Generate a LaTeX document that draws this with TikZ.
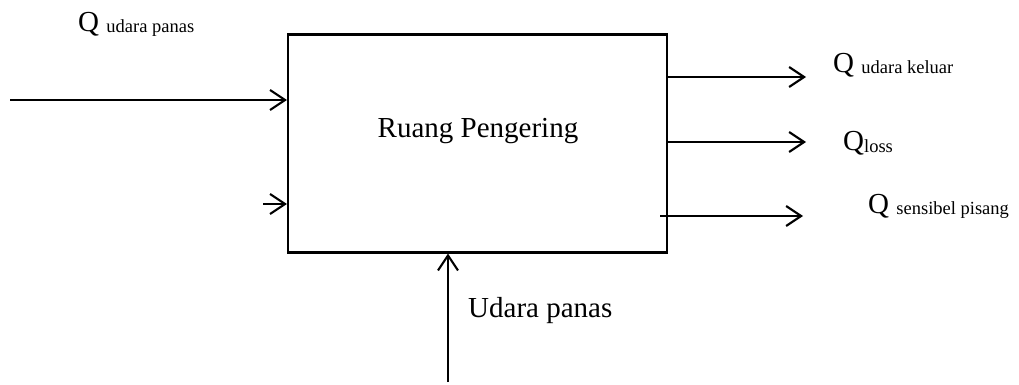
\documentclass[tikz,border=0pt]{standalone}
\usepackage{fontspec}
\setmainfont{Liberation Serif}
\usetikzlibrary{arrows.meta}
\begin{document}
\begin{tikzpicture}[x=1pt,y=-1pt,
  flow/.style={line width=2.1pt,-{Straight Barb[length=15pt,width=20pt,line width=2.1pt]}},
  lbl/.style={inner sep=0pt,anchor=base west,font=\fontsize{29}{32}\selectfont}]
\useasboundingbox (0,0) rectangle (1019,385);
\node[draw,line width=2.1pt,minimum width=379pt,minimum height=218pt,inner sep=0pt] (box) at (477.5,143.5) {};
\node[inner sep=0pt,anchor=base,font=\fontsize{29}{32}\selectfont] (title) at (478,138) {Ruang Pengering};
% inputs
\coordinate (inA) at (10,100);
\coordinate (inB) at (263,204);
\coordinate (inC) at (448,382);
\draw[flow] (inA) -- (inA -| box.west);
\draw[flow] (inB) -- (inB -| box.west);
\draw[flow] (inC) -- (inC |- box.south);
% outputs
\coordinate (outA) at (806,77);
\coordinate (outB) at (806,142);
\coordinate (outC) at (803,216);
\coordinate (sC) at (660,216);
\draw[flow] (outA -| box.east) -- (outA);
\draw[flow] (outB -| box.east) -- (outB);
\draw[flow] (sC) -- (outC);
% labels
\node[lbl] (qin) at (78,32) {Q \raisebox{-1pt}{\fontsize{18.5}{20}\selectfont udara panas}};
\node[lbl] (qout) at (833,73) {Q \raisebox{-1pt}{\fontsize{18.5}{20}\selectfont udara keluar}};
\node[lbl] (qloss) at (843,150) {Q\raisebox{-2pt}{\fontsize{18.5}{20}\selectfont loss}};
\node[lbl] (qsens) at (868,213) {Q \raisebox{-1pt}{\fontsize{18.5}{20}\selectfont sensibel pisang}};
\node[lbl] (udara) at (468,317) {Udara panas};
\end{tikzpicture}
\end{document}
